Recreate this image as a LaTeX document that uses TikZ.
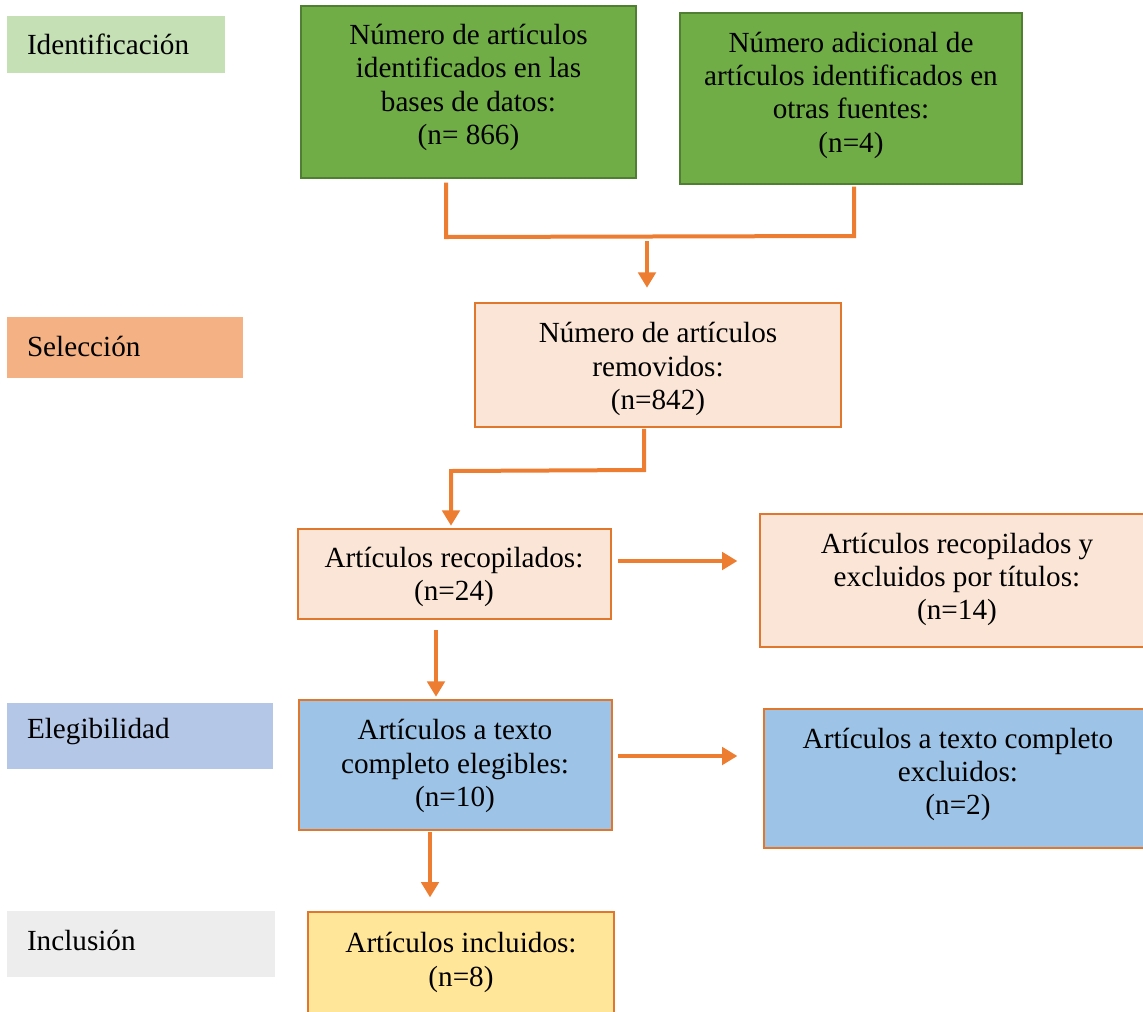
\documentclass[tikz,border=0pt]{standalone}
\usepackage{fontspec}
\setmainfont{Liberation Serif}
\usetikzlibrary{fit,arrows.meta}
\definecolor{gfill}{HTML}{70AD47}
\definecolor{gline}{HTML}{507E32}
\definecolor{labgreen}{HTML}{C5E0B4}
\definecolor{labsel}{HTML}{F4B183}
\definecolor{labeli}{HTML}{B4C7E7}
\definecolor{labinc}{HTML}{EDEDED}
\definecolor{peach}{HTML}{FBE5D6}
\definecolor{bluef}{HTML}{9DC3E6}
\definecolor{yellowf}{HTML}{FFE699}
\definecolor{orangel}{HTML}{ED7D31}
\definecolor{boxline}{HTML}{E0772D}
\begin{document}
\begin{tikzpicture}[x=0.75pt,y=-0.75pt,
  txt/.style={font=\fontsize{21.9}{25}\selectfont, text=black, align=center},
  box/.style={rectangle, inner sep=0pt, line width=0.9pt},
  greenbox/.style={box, fill=gfill, draw=gline},
  peachbox/.style={box, fill=peach, draw=boxline},
  bluebox/.style={box, fill=bluef, draw=boxline},
  yellowbox/.style={box, fill=yellowf, draw=boxline},
  labbox/.style={rectangle, inner sep=0pt, draw=none},
  labtext/.style={txt, anchor=west, inner sep=0pt},
  conn/.style={draw=orangel, line width=3pt},
  arr/.style={conn, -{Triangle[length=11.5pt,width=13pt]}}]
\useasboundingbox (0,0) rectangle (1143,1011);
\clip (0,0) rectangle (1143,1011);

% stage labels
\node[labbox, fill=labgreen, fit={(7,16) (225,73)}] (lid) {};
\node[labtext] (tid) at ([xshift=15pt]lid.west) {Identificación};
\node[labbox, fill=labsel, fit={(7,317) (243,378)}] (lsel) {};
\node[labtext] (tsel) at ([xshift=15pt,yshift=1pt]lsel.west) {Selección};
\node[labbox, fill=labeli, fit={(7,703) (273,769)}] (lel) {};
\node[labtext] (tel) at ([xshift=15pt,yshift=3pt]lel.west) {Elegibilidad};
\node[labbox, fill=labinc, fit={(7,911) (275,977)}] (linc) {};
\node[labtext] (tinc) at ([xshift=15pt,yshift=3pt]linc.west) {Inclusión};

% boxes
\node[greenbox, fit={(301,6) (636,178)}] (b1) {};
\node[txt] (t1) at (468.5,87.5) {Número de artículos\\identificados en las\\bases de datos:\\(n= 866)};
\node[greenbox, fit={(680,13) (1022,184)}] (b2) {};
\node[txt] (t2) at (851,95) {Número adicional de\\artículos identificados en\\otras fuentes:\\(n=4)};

\node[peachbox, fit={(475,303) (841,427)}] (sel) {};
\node[txt] (t3) at (658,369) {Número de artículos\\removidos:\\(n=842)};
\node[peachbox, fit={(298,529) (611,619)}] (rec) {};
\node[txt] (t4) at (454,577) {Artículos recopilados:\\(n=24)};
\node[peachbox, fit={(760,514) (1154,647)}] (exc1) {};
\node[txt] (t5) at (957,579.5) {Artículos recopilados y\\excluidos por títulos:\\(n=14)};
\node[bluebox, fit={(299,700) (612,830)}] (eli) {};
\node[txt] (t6) at (455,766) {Artículos a texto\\completo elegibles:\\(n=10)};
\node[bluebox, fit={(764,709) (1153,848)}] (exc2) {};
\node[txt] (t7) at (958,774.5) {Artículos a texto completo\\excluidos:\\(n=2)};
\node[yellowbox, fit={(308,912) (614,1040)}] (inc) {};
\node[txt] (t8) at (461,962.5) {Artículos incluidos:\\(n=8)};

% connectors
\coordinate (j1) at (446,237);
\coordinate (j2) at (854,236);
\draw[conn] ([yshift=-3pt]b1.south -| j1) -- (j1) -- (j2) -- ([yshift=-1.5pt]b2.south -| j2);
\coordinate (j3) at (647,241);
\draw[arr, shorten >=11pt] (j3) -- (j3 |- sel.north);

\coordinate (k1) at (644,470);
\coordinate (k2) at (451,471);
\draw[arr, shorten >=2pt] ([yshift=-1pt]sel.south -| k1) -- (k1) -- (k2) -- (k2 |- rec.north);

\coordinate (m1) at (618,561);
\draw[arr, shorten >=16.5pt] (m1) -- (m1 -| exc1.west);
\coordinate (m2) at (436,630);
\draw[arr, shorten >=2pt] (m2) -- (m2 |- eli.north);
\coordinate (m3) at (618,756);
\draw[arr, shorten >=19.5pt] (m3) -- (m3 -| exc2.west);
\coordinate (m4) at (430,832);
\draw[arr, shorten >=10.5pt] (m4) -- (m4 |- inc.north);
\end{tikzpicture}
\end{document}
